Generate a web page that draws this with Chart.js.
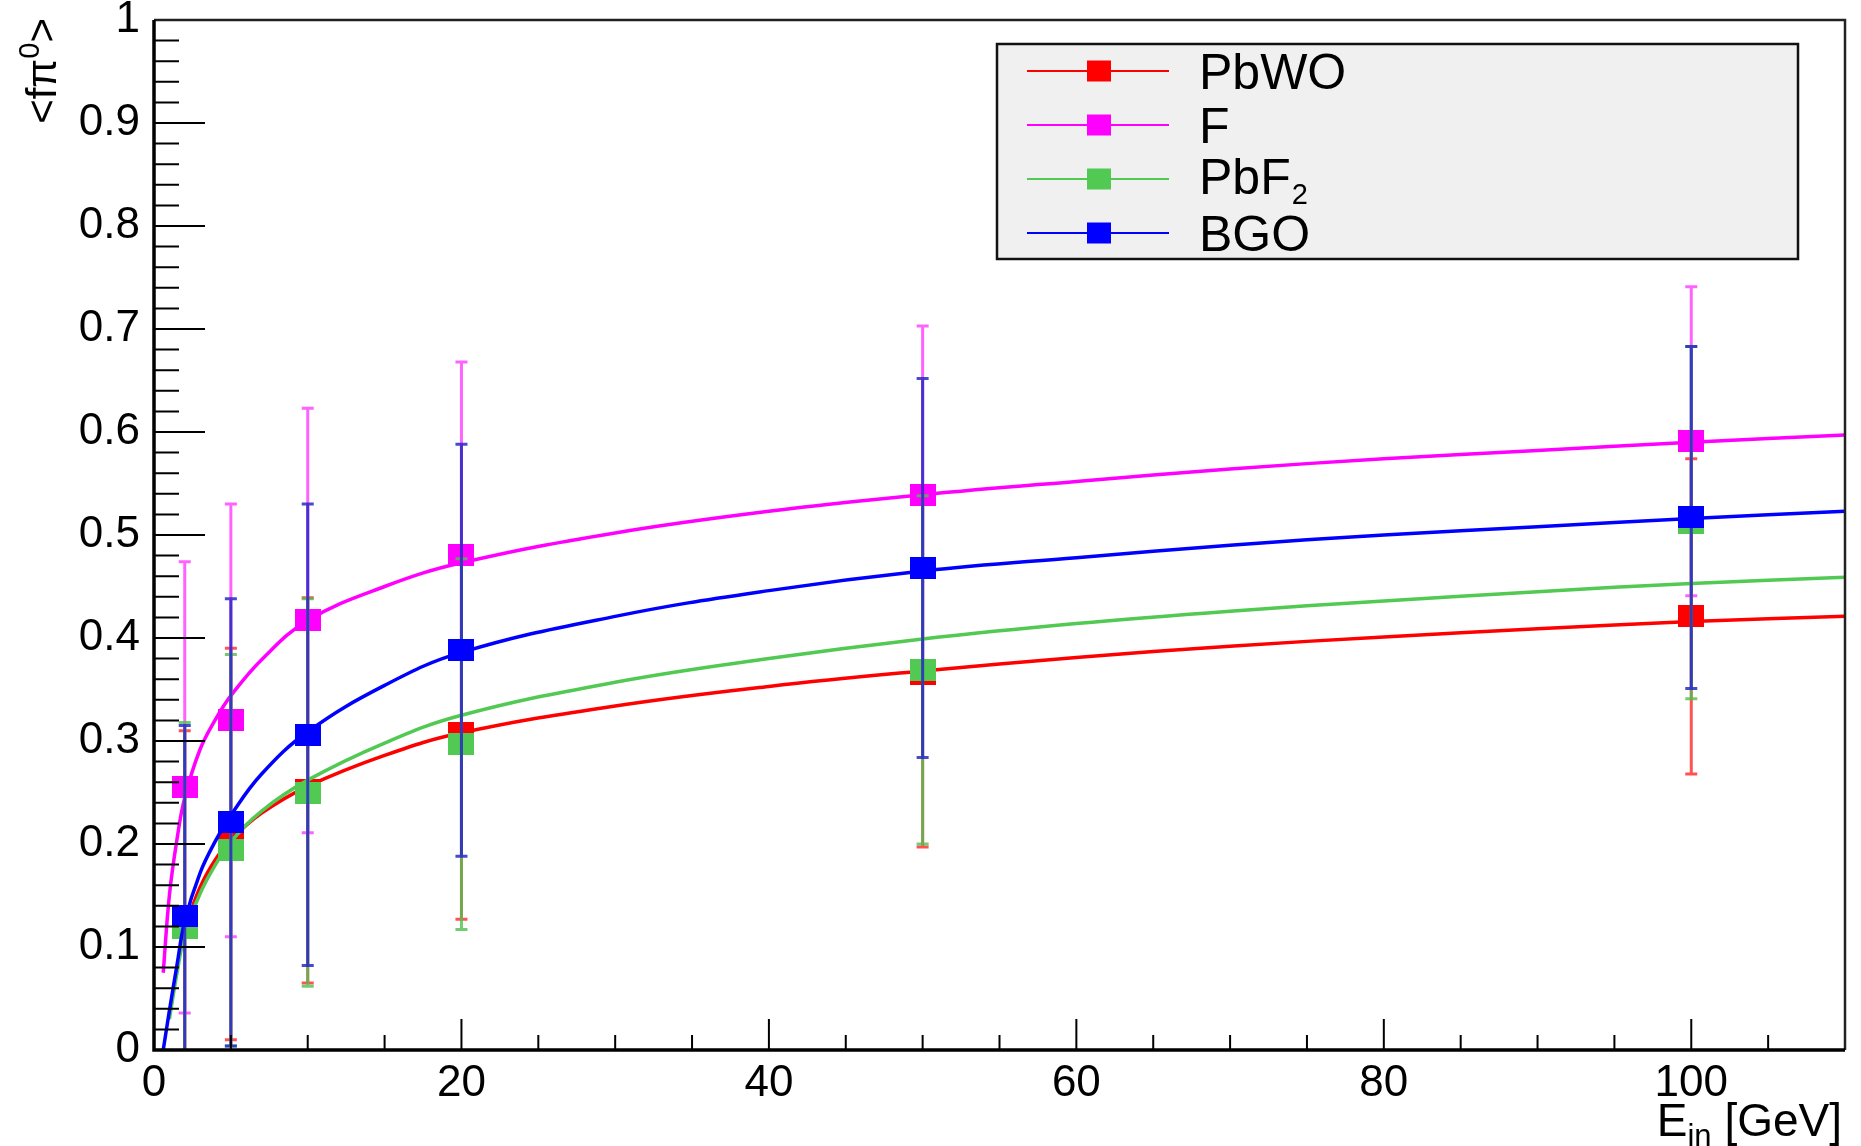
<!doctype html>
<html>

<head>
	<title>fpi0 vs beam energy</title>
	<script src="https://cdn.jsdelivr.net/npm/chart.js@4.4.0/dist/chart.umd.min.js"></script>
	<style>
		body { margin: 0; background: #fff; }
		canvas { display: block; }
	</style>
</head>

<body>
	<canvas id="canvas" width="1861" height="1146"></canvas>
	<script>
		// measured points (beam energy in GeV) with symmetric errors
		var energies = [2, 5, 10, 20, 50, 100];
		var pbwoMean = [0.120, 0.200, 0.252, 0.308, 0.365, 0.421];
		var pbwoErr = [0.190, 0.190, 0.187, 0.181, 0.168, 0.153];
		var fMean = [0.255, 0.320, 0.417, 0.481, 0.539, 0.591];
		var fErr = [0.219, 0.210, 0.206, 0.187, 0.164, 0.150];
		var pbf2Mean = [0.118, 0.194, 0.250, 0.297, 0.369, 0.512];
		var pbf2Err = [0.200, 0.190, 0.188, 0.180, 0.169, 0.171];
		var bgoMean = [0.130, 0.221, 0.306, 0.388, 0.468, 0.517];
		var bgoErr = [0.185, 0.217, 0.224, 0.200, 0.184, 0.166];

		// fit curves
		var fitEnergy = [0.6, 1, 1.5, 2, 3, 4, 5, 7, 10, 15, 20, 30, 40, 50, 60, 70, 80, 90, 100, 110];
		var pbwoFit = [null, null, null, 0.118, 0.158, 0.185, 0.204, 0.230, 0.256, 0.286, 0.308, 0.334, 0.353, 0.368, 0.381, 0.392, 0.401, 0.409, 0.416, 0.421];
		var fFit = [0.075, 0.150, 0.205, 0.245, 0.292, 0.321, 0.344, 0.379, 0.417, 0.450, 0.473, 0.502, 0.523, 0.539, 0.552, 0.564, 0.574, 0.582, 0.590, 0.597];
		var pbf2Fit = [null, 0.030, 0.075, 0.112, 0.152, 0.180, 0.202, 0.232, 0.262, 0.298, 0.325, 0.357, 0.380, 0.399, 0.414, 0.426, 0.436, 0.445, 0.453, 0.459];
		var bgoFit = [0.000, 0.038, 0.083, 0.125, 0.172, 0.203, 0.228, 0.268, 0.309, 0.354, 0.386, 0.421, 0.446, 0.465, 0.478, 0.490, 0.500, 0.508, 0.516, 0.523];

		var legendNames = ['PbWO', 'F', 'PbF', 'BGO'];
		var legendSubs = ['', '', '2', ''];
		var xTickValues = [0, 20, 40, 60, 80, 100];
		var xTickLabels = ['0', '20', '40', '60', '80', '100'];
		var yTickValues = [0, 0.1, 0.2, 0.3, 0.4, 0.5, 0.6, 0.7, 0.8, 0.9, 1];
		var yTickLabels = ['0', '0.1', '0.2', '0.3', '0.4', '0.5', '0.6', '0.7', '0.8', '0.9', '1'];

		var colors = ['#ff0000', '#ff00ff', '#52c952', '#0000ff'];
		var errColors = ['rgba(255,40,40,0.8)', 'rgba(255,60,255,0.8)', 'rgba(80,190,80,0.8)', 'rgba(40,40,200,0.85)'];
		var FONT = '"Liberation Sans", Arial, sans-serif';

		function squareMarker(color, w, h) {
			var c = document.createElement('canvas');
			c.width = w; c.height = h;
			var g = c.getContext('2d');
			g.fillStyle = color;
			g.fillRect(0, 0, w, h);
			return c;
		}

		function toPoints(xs, ys) {
			var out = [];
			for (var i = 0; i < xs.length; i++) out.push({ x: xs[i], y: ys[i] });
			return out;
		}

		var means = [pbwoMean, fMean, pbf2Mean, bgoMean];
		var errs = [pbwoErr, fErr, pbf2Err, bgoErr];
		var fits = [pbwoFit, fFit, pbf2Fit, bgoFit];

		var datasets = [];
		for (var s = 0; s < 4; s++) {
			// drawn first = highest order; each graph: fit, then error bars + markers
			datasets.push({
				label: legendNames[s] + ' fit',
				data: toPoints(fitEnergy, fits[s]),
				showLine: true,
				borderColor: colors[s],
				borderWidth: 3.5,
				pointRadius: 0,
				tension: 0.4,
				order: 8 - 2 * s
			});
			datasets.push({
				label: legendNames[s],
				data: toPoints(energies, means[s]),
				showLine: false,
				pointStyle: squareMarker(colors[s], 26, 22),
				pointRadius: 12,
				errors: errs[s],
				errorColor: errColors[s],
				order: 7 - 2 * s
			});
		}

		var errorBarPlugin = {
			id: 'errorBars',
			beforeDatasetDraw: function (chart, args) {
				var ds = chart.data.datasets[args.index];
				if (!ds.errors) return;
				var ctx = chart.ctx, xs = chart.scales.x, ys = chart.scales.y, a = chart.chartArea;
				ctx.save();
				ctx.beginPath();
				ctx.rect(a.left, a.top, a.right - a.left, a.bottom - a.top);
				ctx.clip();
				ctx.strokeStyle = ds.errorColor;
				ctx.lineWidth = 3;
				ds.data.forEach(function (p, i) {
					var px = xs.getPixelForValue(p.x);
					var top = ys.getPixelForValue(p.y + ds.errors[i]);
					var bot = ys.getPixelForValue(p.y - ds.errors[i]);
					ctx.beginPath();
					ctx.moveTo(px, top); ctx.lineTo(px, bot);
					ctx.moveTo(px - 6, top); ctx.lineTo(px + 6, top);
					ctx.moveTo(px - 6, bot); ctx.lineTo(px + 6, bot);
					ctx.stroke();
				});
				ctx.restore();
			}
		};

		var framePlugin = {
			id: 'rootFrame',
			afterDatasetsDraw: function (chart) {
				var ctx = chart.ctx, xs = chart.scales.x, ys = chart.scales.y, a = chart.chartArea;
				ctx.save();
				ctx.strokeStyle = '#000';
				ctx.lineWidth = 2;
				ctx.beginPath();
				for (var k = 0; k <= 50; k++) {
					var py = ys.getPixelForValue(k * 0.02);
					var len = (k % 5 === 0) ? 51 : 25;
					ctx.moveTo(a.left, py); ctx.lineTo(a.left + len, py);
				}
				for (var j = 0; j <= 22; j++) {
					var px = xs.getPixelForValue(j * 5);
					var tl = (j % 4 === 0) ? 31 : 15;
					ctx.moveTo(px, a.bottom); ctx.lineTo(px, a.bottom - tl);
				}
				ctx.stroke();
				ctx.strokeStyle = '#222';
				ctx.lineWidth = 2.5;
				ctx.beginPath();
				ctx.moveTo(a.left, a.top); ctx.lineTo(a.right, a.top); ctx.lineTo(a.right, a.bottom);
				ctx.stroke();
				ctx.strokeStyle = '#000';
				ctx.lineWidth = 3.5;
				ctx.beginPath();
				ctx.moveTo(a.left, a.top); ctx.lineTo(a.left, a.bottom); ctx.lineTo(a.right, a.bottom);
				ctx.stroke();
				ctx.restore();
			}
		};

		var textPlugin = {
			id: 'rootText',
			afterDraw: function (chart) {
				var ctx = chart.ctx, a = chart.chartArea;
				ctx.save();
				ctx.fillStyle = '#000';
				ctx.textBaseline = 'alphabetic';
				ctx.textAlign = 'left';

				// x axis title, right aligned
				ctx.font = '46px ' + FONT;
				var wE = ctx.measureText('E').width, wRest = ctx.measureText(' [GeV]').width;
				ctx.font = '31px ' + FONT;
				var wIn = ctx.measureText('in').width;
				var x0 = a.right - 3 - (wE + wIn + wRest), base = a.bottom + 86;
				ctx.font = '46px ' + FONT;
				ctx.fillText('E', x0, base);
				ctx.font = '31px ' + FONT;
				ctx.fillText('in', x0 + wE, base + 10);
				ctx.font = '46px ' + FONT;
				ctx.fillText(' [GeV]', x0 + wE + wIn, base);

				// y axis title, rotated, right aligned at the top
				ctx.save();
				ctx.translate(56, a.top - 2);
				ctx.rotate(-Math.PI / 2);
				ctx.font = '42px ' + FONT;
				var w1 = ctx.measureText('<f\u03c0').width, w3 = ctx.measureText('>').width;
				ctx.font = '29px ' + FONT;
				var w2 = ctx.measureText('0').width;
				var sx = -(w1 + w2 + w3);
				ctx.font = '42px ' + FONT;
				ctx.fillText('<f\u03c0', sx, 0);
				ctx.font = '29px ' + FONT;
				ctx.fillText('0', sx + w1, -17);
				ctx.font = '42px ' + FONT;
				ctx.fillText('>', sx + w1 + w2, 0);
				ctx.restore();

				// legend box
				var L = a.left + 843, T = a.top + 24, W = 801, H = 215;
				ctx.fillStyle = '#f0f0f0';
				ctx.fillRect(L, T, W, H);
				ctx.strokeStyle = '#111';
				ctx.lineWidth = 2.5;
				ctx.strokeRect(L, T, W, H);
				for (var i = 0; i < legendNames.length; i++) {
					var cy = T + 27 + i * 54;
					ctx.strokeStyle = colors[i];
					ctx.lineWidth = 2;
					ctx.beginPath();
					ctx.moveTo(L + 30, cy); ctx.lineTo(L + 172, cy);
					ctx.stroke();
					ctx.fillStyle = colors[i];
					ctx.fillRect(L + 102 - 12, cy - 10.5, 24, 21);
					ctx.fillStyle = '#000';
					ctx.font = '50px ' + FONT;
					if (legendSubs[i]) {
						ctx.fillText(legendNames[i], L + 202, cy + 15);
						var wn = ctx.measureText(legendNames[i]).width;
						ctx.font = '29px ' + FONT;
						ctx.fillText(legendSubs[i], L + 202 + wn + 1, cy + 25);
					} else {
						ctx.fillText(legendNames[i], L + 202, cy + 18);
					}
				}
				ctx.restore();
			}
		};

		var config = {
			type: 'scatter',
			data: { datasets: datasets },
			options: {
				responsive: false,
				animation: false,
				devicePixelRatio: 1,
				layout: { padding: { left: 0, right: 16, top: 20, bottom: 0 } },
				plugins: {
					legend: { display: false },
					tooltip: { enabled: false },
					title: { display: false }
				},
				scales: {
					x: {
						type: 'linear',
						min: 0,
						max: 110,
						grid: { display: false, drawTicks: false },
						border: { display: false },
						afterBuildTicks: function (scale) {
							scale.ticks = xTickValues.map(function (v) { return { value: v }; });
						},
						afterFit: function (scale) {
							scale.height = 96;
							scale.paddingLeft = 0; scale.paddingRight = 0;
						},
						ticks: {
							autoSkip: false,
							maxRotation: 0,
							minRotation: 0,
							padding: 7,
							color: '#000',
							font: { family: FONT, size: 44 },
							callback: function (value, index) { return xTickLabels[index]; }
						}
					},
					y: {
						type: 'linear',
						min: 0,
						max: 1,
						grid: { display: false, drawTicks: false },
						border: { display: false },
						afterBuildTicks: function (scale) {
							scale.ticks = yTickValues.map(function (v) { return { value: v }; });
						},
						afterFit: function (scale) {
							scale.width = 154;
							scale.paddingTop = 0; scale.paddingBottom = 0;
						},
						ticks: {
							padding: 14,
							color: '#000',
							font: { family: FONT, size: 44, lineHeight: 0.9 },
							callback: function (value, index) { return yTickLabels[index]; }
						}
					}
				}
			},
			plugins: [errorBarPlugin, framePlugin, textPlugin]
		};

		window.onload = function () {
			var ctx = document.getElementById('canvas').getContext('2d');
			window.myChart = new Chart(ctx, config);
		};
	</script>
</body>

</html>
